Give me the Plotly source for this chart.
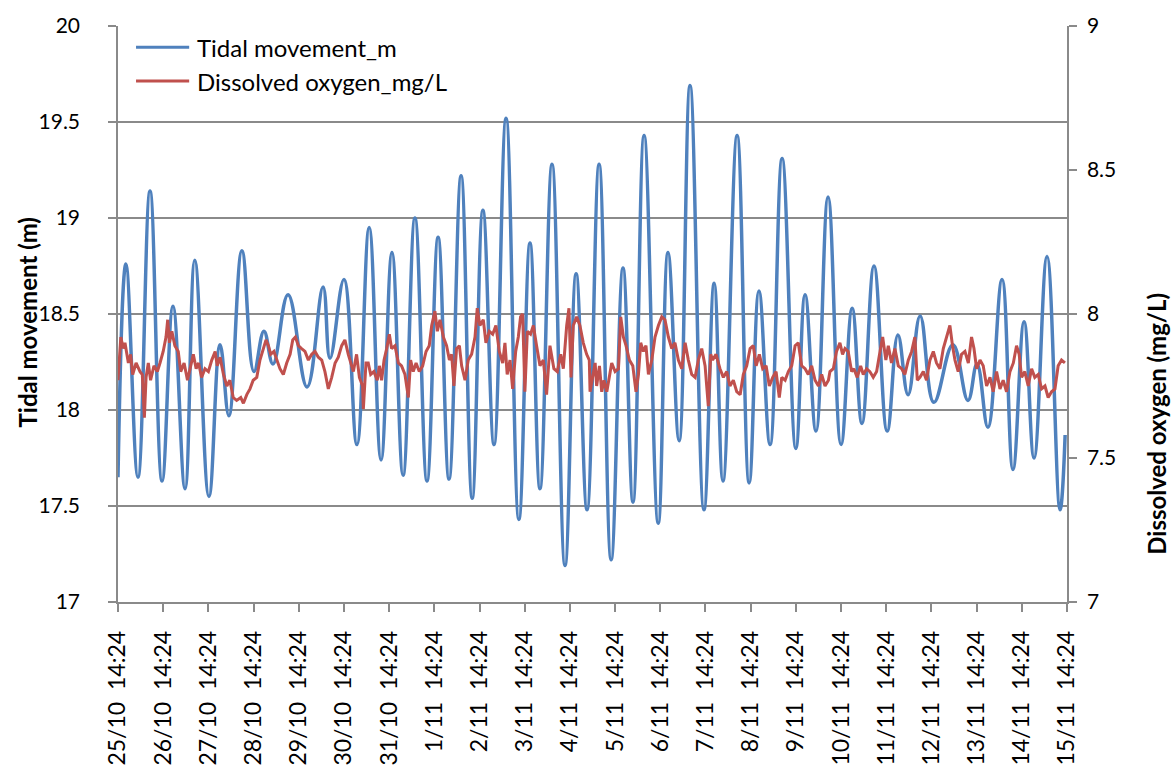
import pandas as pd
import plotly.graph_objects as go

START = pd.Timestamp("2013-10-25 14:24")

# Tidal movement (m): turning points, hours after 25/10 14:24
tide_hours = [0, 4.2, 10.6, 17.0, 23.4, 29.2, 35.6, 40.8, 48.3, 54.2, 58.9, 65.8, 72.2, 77.5,
              82.3, 90.3, 100.4, 108.9, 112.6, 120.0, 126.9, 133.4, 139.7, 145.5, 151.4, 157.7,
              164.1, 170.0, 175.8, 182.2, 188.1, 193.8, 199.7, 206.1, 212.9, 218.8, 224.1,
              230.5, 237.4, 243.3, 249.1, 255.5, 261.9, 268.2, 273.5, 279.4, 286.9, 292.1,
              298.0, 303.8, 311.2, 316.6, 321.3, 328.8, 335.2, 340.4, 346.3, 352.7, 360.0,
              364.9, 370.7, 377.1, 384.0, 389.9, 395.1, 401.5, 408.5, 414.2, 419.6, 426.0,
              433.3, 443.4, 451.4, 456.2, 462.0, 469.5, 475.3, 481.2, 486.5, 493.4, 500.3, 503.0]
tide_m = [17.65, 18.76, 17.65, 19.14, 17.63, 18.54, 17.59, 18.78, 17.55, 18.34, 17.97, 18.83,
          18.20, 18.41, 18.24, 18.60, 18.12, 18.64, 18.27, 18.68, 17.82, 18.95, 17.74, 18.82,
          17.66, 19.00, 17.63, 18.90, 17.64, 19.22, 17.54, 19.04, 17.82, 19.52, 17.43, 18.87,
          17.59, 19.28, 17.19, 18.71, 17.48, 19.28, 17.22, 18.74, 17.52, 19.43, 17.41, 18.82,
          17.84, 19.69, 17.48, 18.66, 17.63, 19.43, 17.62, 18.62, 17.82, 19.31, 17.80, 18.60,
          17.89, 19.11, 17.82, 18.53, 17.93, 18.75, 17.89, 18.39, 18.08, 18.49, 18.04, 18.34,
          18.05, 18.24, 17.91, 18.68, 17.69, 18.46, 17.75, 18.80, 17.48, 17.87]

# Dissolved oxygen (mg/L), hours after 25/10 14:24
do_hours = [0, 1.5, 2.8, 3.7, 5.5, 6.7, 7.8, 9.6, 11.7, 12.9, 14.0, 14.9, 16.1, 17.3, 19.1, 20.9,
            22.3, 24.0, 25.5, 26.4, 27.3, 28.6, 30.2, 32.0, 33.3, 35.1, 36.9, 38.6, 40.0, 41.5,
            42.8, 44.4, 46.2, 48.0, 49.8, 51.6, 52.7, 54.2, 56.0, 57.8, 59.4, 61.2, 63.0, 65.2,
            66.6, 68.4, 70.1, 71.8, 73.7, 75.4, 77.2, 78.6, 79.9, 81.1, 82.8, 84.3, 86.0, 87.8,
            89.6, 91.4, 92.8, 94.2, 95.8, 97.5, 99.3, 101.1, 102.9, 104.6, 106.4, 108.2, 109.9,
            111.7, 113.5, 115.3, 117.0, 118.8, 120.5, 122.3,
            123.2, 125.0, 126.7, 128.2, 129.9, 130.3, 131.7, 132.9, 134.2, 135.9, 137.7, 138.8,
            140.0, 141.3, 142.7, 144.1, 145.3, 147.1, 148.9, 150.6, 152.4, 154.2, 155.4, 156.8,
            158.3, 160.0, 161.8, 163.6, 165.3, 166.6, 168.3, 169.6, 171.0, 172.8, 174.5, 176.0,
            177.2, 178.4, 179.8, 181.3, 182.5, 184.3, 186.0, 187.8, 189.6, 190.8, 192.2, 194.0,
            195.4, 197.2, 199.0, 200.7, 202.5, 204.3, 205.5, 206.7, 208.2, 209.6, 211.2, 212.6,
            213.8, 214.9, 216.1, 217.4, 219.1, 220.6, 222.3, 224.1, 225.9, 227.6, 229.4, 231.5,
            233.3, 235.1, 236.5, 238.3, 239.5, 240.6, 241.8, 243.6, 245.3, 247.1, 248.9, 250.3,
            250.7, 252.1, 253.4, 254.2, 255.7, 256.9, 258.1, 259.6, 261.0, 262.2, 264.0, 265.8,
            267.0, 268.4, 269.8, 271.6, 273.4, 275.1, 276.4, 277.6, 279.0, 280.4, 281.7, 283.5,
            285.2, 287.0, 288.8, 290.5, 292.3, 294.1, 295.8, 297.6, 299.4, 301.2, 302.9, 304.7,
            306.5, 308.2, 310.0, 311.8, 313.5, 314.8, 315.8, 317.6, 319.7, 321.5, 323.3, 325.0,
            326.8, 328.6, 330.4, 332.1, 333.9, 335.7, 337.4, 338.9, 340.6, 342.4, 344.2, 345.9,
            347.7, 349.5, 351.2, 352.5, 354.3, 356.0, 357.8, 359.6, 361.3, 363.1, 364.9, 366.6,
            368.4, 370.2, 372.0, 373.7, 375.5, 377.3,
            378.1, 379.9, 381.6, 383.4, 384.8, 386.1, 387.8, 389.6, 390.8, 392.6, 394.4, 395.8,
            397.6, 399.3, 401.1, 402.9, 404.7, 406.1, 407.8, 409.1, 410.8, 412.6, 414.4, 416.2,
            417.9, 419.7, 421.5, 423.2, 424.5, 425.9, 427.7, 429.4, 431.2, 433.0, 434.7, 436.5,
            438.3, 440.1, 441.8, 443.2, 444.5, 446.2, 448.0, 449.8, 451.6, 453.3, 454.6, 456.0,
            457.8, 459.5, 461.3, 463.1, 464.8, 466.6, 468.4, 470.1, 471.9, 473.7, 475.5, 477.2,
            478.6, 479.9, 481.6, 483.4, 485.2, 486.9, 488.7, 490.5, 492.3, 494.0, 495.8, 497.6,
            499.3, 501.1, 502.9, 503.8]
do_mgL = [7.77, 7.92, 7.88, 7.90, 7.83, 7.86, 7.79, 7.83, 7.80, 7.79, 7.64, 7.78, 7.83, 7.77, 7.82,
          7.80, 7.83, 7.87, 7.92, 7.98, 7.90, 7.94, 7.89, 7.87, 7.80, 7.83, 7.77, 7.82, 7.86, 7.81,
          7.83, 7.78, 7.81, 7.80, 7.84, 7.87, 7.82, 7.85, 7.79, 7.75, 7.77, 7.71, 7.70, 7.71, 7.69,
          7.72, 7.74, 7.77, 7.78, 7.84, 7.88, 7.91, 7.89, 7.86, 7.87, 7.84, 7.81, 7.79, 7.83, 7.86,
          7.91, 7.92, 7.89, 7.88, 7.87, 7.84, 7.86, 7.87, 7.85, 7.84, 7.80, 7.74, 7.78, 7.83, 7.85,
          7.89, 7.91, 7.86,
          7.84, 7.80, 7.86, 7.78, 7.75, 7.67, 7.83, 7.83, 7.79, 7.80, 7.77, 7.82, 7.77, 7.84, 7.88,
          7.93, 7.88, 7.89, 7.83, 7.82, 7.79, 7.71, 7.84, 7.80, 7.83, 7.80, 7.82, 7.87, 7.89, 7.96,
          8.01, 7.94, 7.98, 7.92, 7.89, 7.84, 7.86, 7.75, 7.88, 7.89, 7.82, 7.77, 7.84, 7.86, 7.92,
          8.02, 7.96, 7.98, 7.90, 7.94, 7.93, 7.96, 7.87, 7.83, 7.90, 7.79, 7.84, 7.74, 7.87, 7.92,
          7.99, 8.00, 7.73, 7.94, 7.93, 7.96, 7.89, 7.82, 7.84, 7.72, 7.89, 7.81, 7.80, 7.86, 7.81,
          7.96, 8.02, 7.78, 7.96, 7.99, 7.96, 7.90, 7.86,
          7.84, 7.73, 7.79, 7.83, 7.75, 7.82, 7.73, 7.77, 7.73, 7.79, 7.83, 7.80, 7.81, 7.99, 7.92,
          7.89, 7.84, 7.82, 7.73, 7.79, 7.90, 7.87, 7.89, 7.79, 7.84, 7.92, 7.96, 7.99, 7.98, 7.92,
          7.88, 7.90, 7.84, 7.81, 7.90, 7.84, 7.79, 7.78, 7.84, 7.88, 7.82, 7.68, 7.86, 7.84, 7.86,
          7.81, 7.78, 7.80, 7.75, 7.77, 7.73, 7.72, 7.79, 7.82, 7.88, 7.89, 7.82, 7.86, 7.81, 7.82,
          7.75, 7.78, 7.80, 7.71, 7.78, 7.77, 7.80, 7.82, 7.89, 7.90, 7.82, 7.81, 7.79, 7.82, 7.77,
          7.75, 7.79, 7.75,
          7.77, 7.80, 7.81, 7.87, 7.90, 7.86, 7.88, 7.87, 7.80, 7.81, 7.78, 7.82, 7.79, 7.81, 7.80,
          7.78, 7.80, 7.87, 7.92, 7.84, 7.89, 7.83, 7.88, 7.82, 7.81, 7.79, 7.84, 7.87, 7.92, 7.77,
          7.78, 7.80, 7.77, 7.84, 7.87, 7.83, 7.81, 7.88, 7.92, 7.96, 7.89, 7.84, 7.80, 7.86, 7.87,
          7.83, 7.92, 7.88, 7.81, 7.84, 7.82, 7.75, 7.78, 7.73, 7.80, 7.74, 7.77, 7.73, 7.80, 7.83,
          7.89, 7.86, 7.78, 7.80, 7.75, 7.81, 7.78, 7.79, 7.74, 7.75, 7.71, 7.73, 7.74, 7.82, 7.84,
          7.83]

tick_labels = ["25/10", "26/10", "27/10", "28/10", "29/10", "30/10", "31/10", "1/11", "2/11",
               "3/11", "4/11", "5/11", "6/11", "7/11", "8/11", "9/11", "10/11", "11/11",
               "12/11", "13/11", "14/11", "15/11"]
tick_time = "14:24"
series_names = ["Tidal movement_m", "Dissolved oxygen_mg/L"]
series_colors = ["#4F81BD", "#C0504D"]

FONT = "Lato, 'Open Sans', sans-serif"
GRID = "#8A8A8A"

tide_x = START + pd.to_timedelta(tide_hours, unit="h")
do_x = START + pd.to_timedelta(do_hours, unit="h")
tick_vals = [START + pd.Timedelta(days=i) for i in range(len(tick_labels))]
tick_text = [f"{d}\u00a0\u00a0{tick_time}" for d in tick_labels]

fig = go.Figure()
fig.add_trace(go.Scatter(x=tide_x, y=tide_m, mode="lines", name=series_names[0],
                         line=dict(color=series_colors[0], width=3.5, shape="spline",
                                   smoothing=1.2)))
fig.add_trace(go.Scatter(x=do_x, y=do_mgL, mode="lines", name=series_names[1],
                         yaxis="y2", line=dict(color=series_colors[1], width=3)))

# legend drawn inside the plot area (top-left)
shapes, annotations = [], []
for i, (nm, col) in enumerate(zip(series_names, series_colors)):
    yy = 0.963 - i * 0.0585
    shapes.append(dict(type="line", xref="paper", yref="paper", x0=0.019, x1=0.075,
                       y0=yy, y1=yy, line=dict(color=col, width=3)))
    annotations.append(dict(text=nm, xref="paper", yref="paper", x=0.081, y=yy,
                            xanchor="left", yanchor="middle", showarrow=False,
                            font=dict(size=24)))

annotations += [
    dict(text="<b>Tidal movement (m)</b>", xref="paper", yref="paper", x=-0.095, y=0.485,
         textangle=-90, showarrow=False, font=dict(size=24), xanchor="center", yanchor="middle"),
    dict(text="<b>Dissolved oxygen (mg/L)</b>", xref="paper", yref="paper", x=1.0935, y=0.309,
         textangle=-90, showarrow=False, font=dict(size=24), xanchor="center", yanchor="middle"),
]

fig.update_layout(
    width=1176, height=778,
    margin=dict(l=118, r=109, t=22, b=158),
    paper_bgcolor="white", plot_bgcolor="white",
    font=dict(family=FONT, size=21, color="#000000"),
    showlegend=False,
    xaxis=dict(type="date", range=[tick_vals[0], tick_vals[-1]], tickmode="array",
               tickvals=tick_vals, ticktext=tick_text, tickangle=-90, showgrid=False,
               showline=True, linecolor=GRID, linewidth=1.5, ticks="outside", ticklen=8,
               tickcolor=GRID, tickwidth=1.5, zeroline=False, tickfont=dict(size=23),
               ticklabelstandoff=10),
    yaxis=dict(range=[17, 20], dtick=0.5, tick0=17, showgrid=True, gridcolor=GRID, gridwidth=1.5,
               showline=True, linecolor=GRID, linewidth=1.5, ticks="outside", ticklen=8,
               tickcolor=GRID, tickwidth=1.5, zeroline=False, ticklabelstandoff=24),
    yaxis2=dict(range=[7, 9], dtick=0.5, tick0=7, overlaying="y", side="right", showgrid=False,
                showline=True, linecolor=GRID, linewidth=1.5, ticks="outside", ticklen=8,
                tickcolor=GRID, tickwidth=1.5, zeroline=False, ticklabelstandoff=6),
    shapes=shapes,
    annotations=annotations,
)

fig.write_html("out.html", config={"displayModeBar": False},
               post_script="document.body.style.margin='0';document.body.style.overflow='hidden';")
